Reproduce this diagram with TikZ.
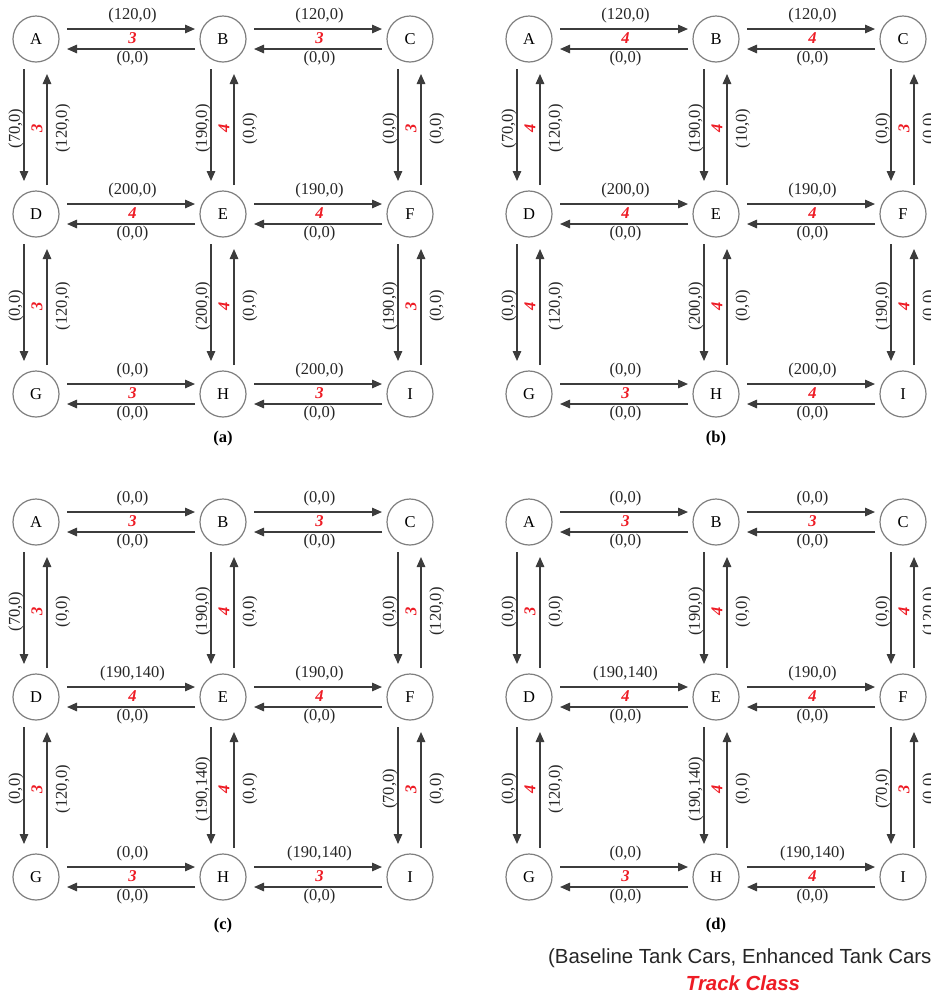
\documentclass[tikz,border=0pt]{standalone}
\usepackage{fontspec}
\setmainfont{Liberation Serif}
\setsansfont{Liberation Sans}
\usetikzlibrary{arrows.meta,calc}
\definecolor{tcred}{HTML}{EE1C25}
\definecolor{arrgray}{HTML}{3C3C3C}
\definecolor{circgray}{HTML}{7F7F7F}
\tikzset{
  circ/.style={circle,draw=circgray,line width=1.2pt,minimum size=46pt,inner sep=0pt,font=\fontsize{16.5}{18}\selectfont},
  arr/.style={draw=arrgray,line width=1.4pt,-{Triangle[length=10pt,width=8.5pt]}},
  lab/.style={inner sep=0pt,font=\fontsize{16.5}{18}\selectfont,text=black!85},
  rlab/.style={inner sep=0pt,font=\fontsize{16.5}{18}\selectfont\bfseries\itshape,text=tcred},
  plab/.style={inner sep=0pt,font=\fontsize{16.5}{18}\selectfont\bfseries},
}
\newcommand\mkgrid[3]{%
  \foreach \n/\dx/\dy in {A/0/0,B/187/0,C/374/0,D/0/175,E/187/175,F/374/175,G/0/355,H/187/355,I/374/355}{
    \node[circ] (#1\n) at (#2+\dx,#3+\dy) {\n};
  }%
}
\newcommand\hedge[5]{%
  \draw[arr] ($(#1)+(31,-10)$) -- ($(#2)+(-28,-10)$);
  \draw[arr] ($(#2)+(-28,10)$) -- ($(#1)+(31,10)$);
  \node[lab] at ($(#1)!0.5!(#2)+(3,-23)$) {#3};
  \node[rlab] at ($(#1)!0.5!(#2)+(3,-0.5)$) {#4};
  \node[lab] at ($(#1)!0.5!(#2)+(3,20)$) {#5};
}
\newcommand\vedge[5]{%
  \draw[arr] ($(#1)+(-12,30)$) -- ($(#2)+(-12,-33)$);
  \draw[arr] ($(#2)+(11,-29)$) -- ($(#1)+(11,35)$);
  \node[lab,rotate=90] at ($(#1)!0.5!(#2)+(-20,2)$) {#3};
  \node[rlab,rotate=90] at ($(#1)!0.5!(#2)+(1,2)$) {#4};
  \node[lab,rotate=90] at ($(#1)!0.5!(#2)+(27,2)$) {#5};
}
\begin{document}
\begin{tikzpicture}[x=1pt,y=-1pt]
\useasboundingbox (0,0) rectangle (931,994);
\clip (0,0) rectangle (931,994);
\fill[white] (0,0) rectangle (931,994);
% panel (a)
\mkgrid{a}{36}{39}
\hedge{aA}{aB}{(120,0)}{3}{(0,0)}
\hedge{aB}{aC}{(120,0)}{3}{(0,0)}
\hedge{aD}{aE}{(200,0)}{4}{(0,0)}
\hedge{aE}{aF}{(190,0)}{4}{(0,0)}
\hedge{aG}{aH}{(0,0)}{3}{(0,0)}
\hedge{aH}{aI}{(200,0)}{3}{(0,0)}
\vedge{aA}{aD}{(70,0)}{3}{(120,0)}
\vedge{aB}{aE}{(190,0)}{4}{(0,0)}
\vedge{aC}{aF}{(0,0)}{3}{(0,0)}
\vedge{aD}{aG}{(0,0)}{3}{(120,0)}
\vedge{aE}{aH}{(200,0)}{4}{(0,0)}
\vedge{aF}{aI}{(190,0)}{3}{(0,0)}
\node[plab] (capa) at (223,439) {(a)};
% panel (b)
\mkgrid{b}{529}{39}
\hedge{bA}{bB}{(120,0)}{4}{(0,0)}
\hedge{bB}{bC}{(120,0)}{4}{(0,0)}
\hedge{bD}{bE}{(200,0)}{4}{(0,0)}
\hedge{bE}{bF}{(190,0)}{4}{(0,0)}
\hedge{bG}{bH}{(0,0)}{3}{(0,0)}
\hedge{bH}{bI}{(200,0)}{4}{(0,0)}
\vedge{bA}{bD}{(70,0)}{4}{(120,0)}
\vedge{bB}{bE}{(190,0)}{4}{(10,0)}
\vedge{bC}{bF}{(0,0)}{3}{(0,0)}
\vedge{bD}{bG}{(0,0)}{4}{(120,0)}
\vedge{bE}{bH}{(200,0)}{4}{(0,0)}
\vedge{bF}{bI}{(190,0)}{4}{(0,0)}
\node[plab] (capb) at (716,439) {(b)};
% panel (c)
\mkgrid{c}{36}{522}
\hedge{cA}{cB}{(0,0)}{3}{(0,0)}
\hedge{cB}{cC}{(0,0)}{3}{(0,0)}
\hedge{cD}{cE}{(190,140)}{4}{(0,0)}
\hedge{cE}{cF}{(190,0)}{4}{(0,0)}
\hedge{cG}{cH}{(0,0)}{3}{(0,0)}
\hedge{cH}{cI}{(190,140)}{3}{(0,0)}
\vedge{cA}{cD}{(70,0)}{3}{(0,0)}
\vedge{cB}{cE}{(190,0)}{4}{(0,0)}
\vedge{cC}{cF}{(0,0)}{3}{(120,0)}
\vedge{cD}{cG}{(0,0)}{3}{(120,0)}
\vedge{cE}{cH}{(190,140)}{4}{(0,0)}
\vedge{cF}{cI}{(70,0)}{3}{(0,0)}
\node[plab] (capc) at (223,926) {(c)};
% panel (d)
\mkgrid{d}{529}{522}
\hedge{dA}{dB}{(0,0)}{3}{(0,0)}
\hedge{dB}{dC}{(0,0)}{3}{(0,0)}
\hedge{dD}{dE}{(190,140)}{4}{(0,0)}
\hedge{dE}{dF}{(190,0)}{4}{(0,0)}
\hedge{dG}{dH}{(0,0)}{3}{(0,0)}
\hedge{dH}{dI}{(190,140)}{4}{(0,0)}
\vedge{dA}{dD}{(0,0)}{3}{(0,0)}
\vedge{dB}{dE}{(190,0)}{4}{(0,0)}
\vedge{dC}{dF}{(0,0)}{4}{(120,0)}
\vedge{dD}{dG}{(0,0)}{4}{(120,0)}
\vedge{dE}{dH}{(190,140)}{4}{(0,0)}
\vedge{dF}{dI}{(70,0)}{3}{(0,0)}
\node[plab] (capd) at (716,926) {(d)};
% legend
\node[anchor=west,inner sep=0pt,font=\sffamily\fontsize{20.4}{22}\selectfont,text=black!85] (leg) at (548,958) {(Baseline Tank Cars, Enhanced Tank Cars};
\node[inner sep=0pt,font=\sffamily\fontsize{20.4}{22}\selectfont\bfseries\itshape,text=tcred] (tc) at (743,983) {Track Class};
\end{tikzpicture}
\end{document}
